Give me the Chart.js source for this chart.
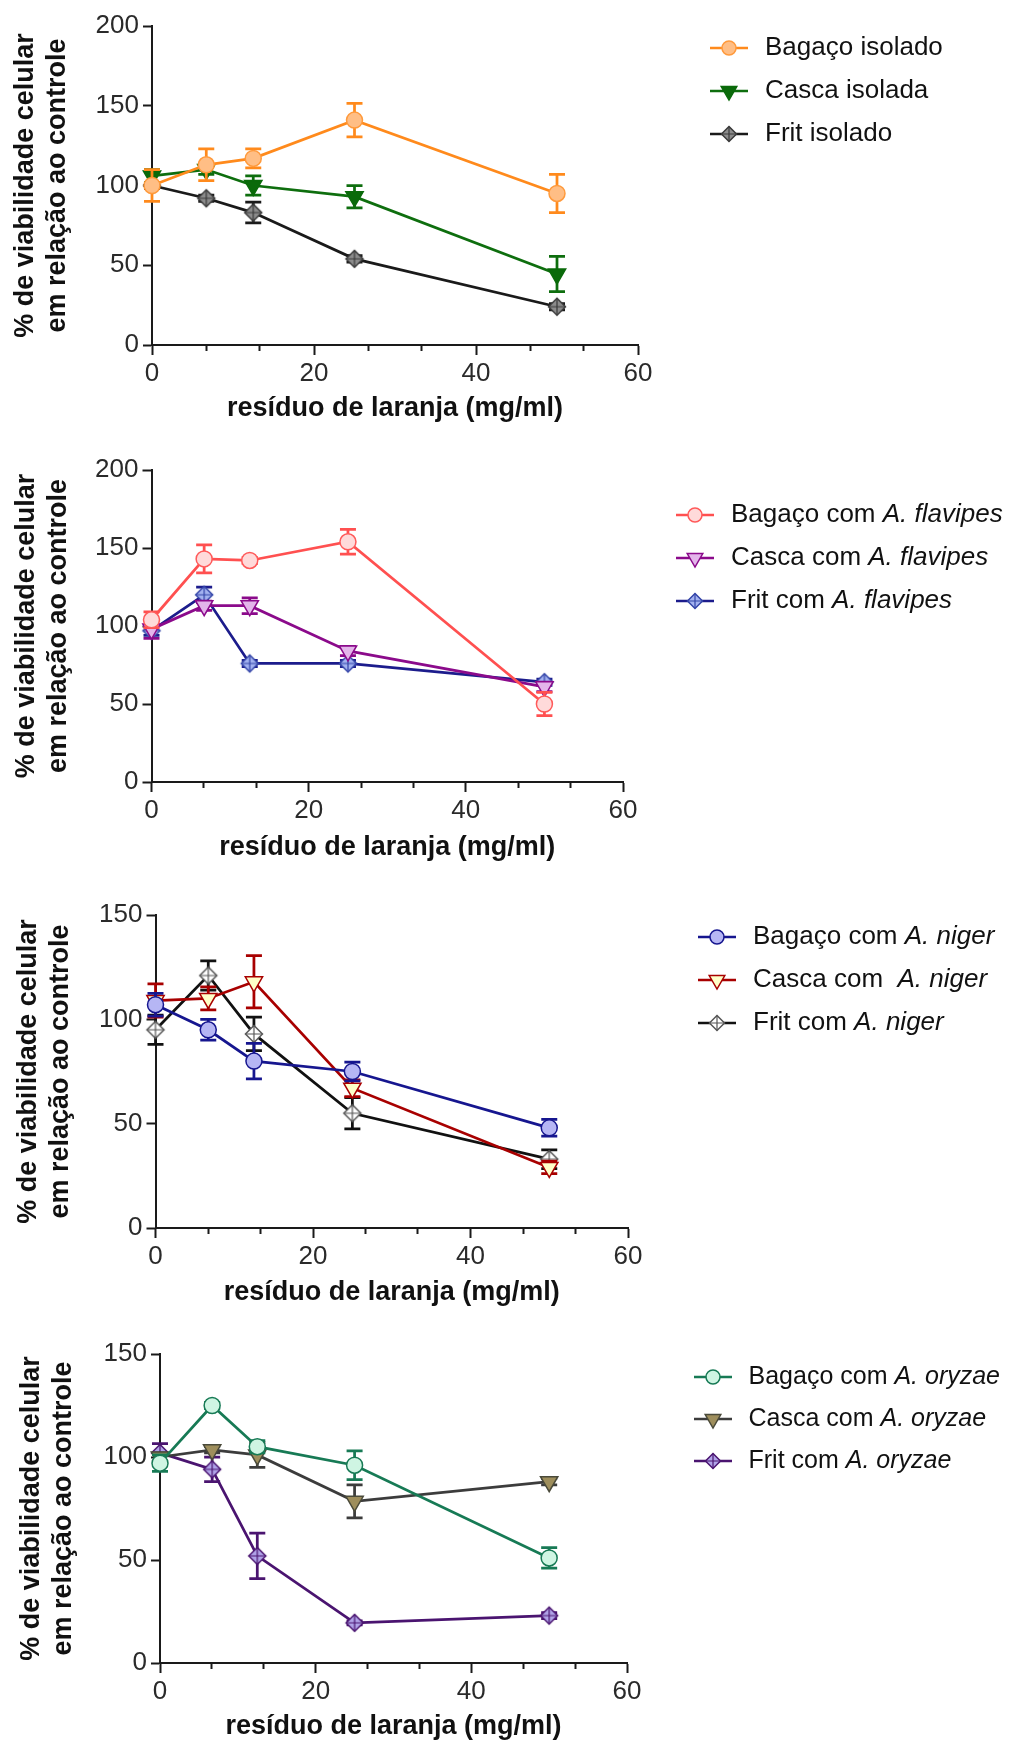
<!DOCTYPE html>
<html><head><meta charset="utf-8">
<script src="https://cdn.jsdelivr.net/npm/chart.js@4.4.1/dist/chart.umd.min.js"></script>
<style>
html,body{margin:0;padding:0;background:#fff;width:1009px;height:1740px;overflow:hidden}
canvas{position:absolute;left:0}
</style></head><body>
<canvas id="c1" width="1009" height="440" style="top:0px"></canvas>
<canvas id="c2" width="1009" height="440" style="top:440px"></canvas>
<canvas id="c3" width="1009" height="440" style="top:880px"></canvas>
<canvas id="c4" width="1009" height="420" style="top:1320px"></canvas>
<script>
// ---------------- DATA ----------------
const concentrations = [0, 6.7, 12.5, 25, 50];
const xMajorTicks = [0, 20, 40, 60];
const xMinorTicks = [6.67, 13.33, 26.67, 33.33, 46.67, 53.33];
const yTicks200 = [0, 50, 100, 150, 200];
const yTicks150 = [0, 50, 100, 150];
const yAxisTitle = ['% de viabilidade celular', 'em relação ao controle'];
const xAxisTitle = 'resíduo de laranja (mg/ml)';

const labelsIsolado = ['Bagaço isolado', 'Casca isolada', 'Frit isolado'];
const bagacoIsolado = [100, 113, 117, 141, 95];
const bagacoIsoladoErr = [10, 10, 6, 10.5, 12];
const cascaIsolada = [106, 110, 100, 93, 44.5];
const cascaIsoladaErr = [4, 3, 6, 7, 11];
const fritIsolado = [100, 92, 83, 54, 24];
const fritIsoladoErr = [2, 2, 6.5, 2, 2];

const labelsFlavipes = ['Bagaço com A. flavipes', 'Casca com A. flavipes', 'Frit com A. flavipes'];
const bagacoFlavipes = [104, 143, 142, 154, 50];
const bagacoFlavipesErr = [5, 9, 2, 8, 7.5];
const cascaFlavipes = [98, 113, 113, 84, 61];
const cascaFlavipesErr = [6, 3, 5, 3, 3];
const fritFlavipes = [97, 120, 76, 76, 64];
const fritFlavipesErr = [3, 5, 2, 2, 2];

const labelsNiger = ['Bagaço com A. niger', 'Casca com  A. niger', 'Frit com A. niger'];
const bagacoNiger = [107, 95, 80, 75, 48];
const bagacoNigerErr = [5.5, 5, 8.5, 4.5, 4];
const cascaNiger = [109, 110, 118, 67, 29];
const cascaNigerErr = [8, 5.5, 12.5, 4, 3];
const fritNiger = [95, 121, 93, 55, 33];
const fritNigerErr = [7, 7, 8, 7.5, 4.5];

const labelsOryzae = ['Bagaço com A. oryzae', 'Casca com A. oryzae', 'Frit com A. oryzae'];
const bagacoOryzae = [97, 125, 105, 96, 51];
const bagacoOryzaeErr = [4, 1.5, 3, 7, 5];
const cascaOryzae = [100, 103.5, 101, 78.5, 88];
const cascaOryzaeErr = [2, 1.5, 6, 8, 1.5];
const fritOryzae = [102, 94, 52, 19.5, 23];
const fritOryzaeErr = [4.5, 6, 11, 1, 1.5];

// ---------------- STYLES ----------------
const FONT = "'Liberation Sans', Arial, Helvetica, sans-serif";
const styles1 = [
  {marker: 'circle', line: '#FF8A1C', fill: '#FFBE85', stroke: '#FF9A3C'},
  {marker: 'triangle', line: '#0E6E0E', fill: '#0A6A0A', stroke: '#0A6A0A'},
  {marker: 'diamond', line: '#1A1A1A', fill: '#8C8C8C', stroke: '#3A3A3A'}
];
const styles2 = [
  {marker: 'circle', line: '#FF5050', fill: '#FFDADA', stroke: '#FF5A5A'},
  {marker: 'triangle', line: '#8B0A8B', fill: '#E3B5EA', stroke: '#8B0A8B'},
  {marker: 'diamond', line: '#1C1C8C', fill: '#A3B2F0', stroke: '#3344A8'}
];
const styles3 = [
  {marker: 'circle', line: '#16168F', fill: '#B6B6F4', stroke: '#16168F'},
  {marker: 'triangle', line: '#A80000', fill: '#FFFFC8', stroke: '#A80000'},
  {marker: 'diamond', line: '#111111', fill: '#FFFFFF', stroke: '#555555'}
];
const styles4 = [
  {marker: 'circle', line: '#177A55', fill: '#CFF5E3', stroke: '#177A55'},
  {marker: 'triangle', line: '#3C3C3C', fill: '#9E8E5C', stroke: '#4A4A3A'},
  {marker: 'diamond', line: '#4A1470', fill: '#B0A3E8', stroke: '#4A1470'}
];

function markerCanvas(kind, fill, stroke, lineColor) {
  const w = lineColor ? 38 : 22, h = 24;
  const c = document.createElement('canvas'); c.width = w; c.height = h;
  const g = c.getContext('2d');
  const cx = w / 2, cy = h / 2;
  if (lineColor) {
    g.strokeStyle = lineColor; g.lineWidth = 2.5;
    g.beginPath(); g.moveTo(0, cy); g.lineTo(w, cy); g.stroke();
  }
  g.fillStyle = fill; g.strokeStyle = stroke; g.lineWidth = 1.5;
  g.beginPath();
  if (kind === 'circle') {
    g.arc(cx, cy, 7, 0, Math.PI * 2);
  } else if (kind === 'triangle') {
    const r = 9;
    g.moveTo(cx - r * 0.866, cy - r / 2); g.lineTo(cx + r * 0.866, cy - r / 2); g.lineTo(cx, cy + r); g.closePath();
  } else {
    const r = lineColor ? 7.5 : 8.5;
    g.moveTo(cx, cy - r); g.lineTo(cx + r, cy); g.lineTo(cx, cy + r); g.lineTo(cx - r, cy); g.closePath();
  }
  g.fill(); g.stroke();
  if (kind === 'diamond') {
    const r = lineColor ? 7.5 : 8.5;
    g.lineWidth = 1.2; g.beginPath();
    g.moveTo(cx, cy - r); g.lineTo(cx, cy + r); g.moveTo(cx - r, cy); g.lineTo(cx + r, cy); g.stroke();
  }
  return c;
}

function makeDataset(label, values, errors, st) {
  const ds = {
    label: label,
    data: values.map((v, i) => ({x: concentrations[i], y: v})),
    errorBars: errors,
    borderColor: st.line,
    borderWidth: 2.75,
    tension: 0,
    clip: false,
    pointBackgroundColor: st.fill,
    pointBorderColor: st.stroke,
    pointBorderWidth: 1.5,
    legendIcon: markerCanvas(st.marker, st.fill, st.stroke, st.line)
  };
  if (st.marker === 'circle') { ds.pointStyle = 'circle'; ds.pointRadius = 8; }
  else if (st.marker === 'triangle') { ds.pointStyle = 'triangle'; ds.pointRotation = 180; ds.pointRadius = 10; }
  else { ds.pointStyle = markerCanvas('diamond', st.fill, st.stroke, null); ds.pointRadius = 8.5; }
  return ds;
}

const errorBarPlugin = {
  id: 'errorBars',
  beforeDatasetDraw(chart, args) {
    const ds = chart.data.datasets[args.index];
    if (!ds.errorBars) return;
    const ys = chart.scales.y, ctx = chart.ctx;
    ctx.save();
    ctx.strokeStyle = ds.borderColor; ctx.lineWidth = 2.75;
    args.meta.data.forEach((pt, i) => {
      const e = ds.errorBars[i]; if (!e) return;
      const v = ds.data[i].y;
      const top = ys.getPixelForValue(v + e), bot = ys.getPixelForValue(v - e);
      const x = pt.x, cap = 8;
      ctx.beginPath();
      ctx.moveTo(x, top); ctx.lineTo(x, bot);
      ctx.moveTo(x - cap, top); ctx.lineTo(x + cap, top);
      ctx.moveTo(x - cap, bot); ctx.lineTo(x + cap, bot);
      ctx.stroke();
    });
    ctx.restore();
  }
};

const legendPlacer = {
  id: 'legendPlacer',
  afterLayout(chart, args, opts) {
    const lg = chart.legend; if (!lg || opts.x == null) return;
    const pad = lg.options.labels.padding;
    lg.left = opts.x - pad; lg.right = chart.width;
    lg.top = opts.y - pad; lg.bottom = chart.height;
    lg.width = lg.right - lg.left; lg.height = lg.bottom - lg.top;
  },
  beforeDraw(chart) {
    // species names (A. xxx) in the legend are drawn in italic
    const lg = chart.legend; if (!lg || lg._italicPatched) return;
    const orig = lg.draw.bind(lg);
    lg.draw = function(area) {
      const ctx = chart.ctx; const of = ctx.fillText;
      ctx.fillText = function(text, x, y, mw) {
        const m = /^(.*?)(A\.\s\S+)$/.exec(String(text));
        if (!m) return of.call(this, text, x, y);
        const f = this.font;
        of.call(this, m[1], x, y);
        const w = this.measureText(m[1]).width;
        this.font = 'italic ' + f;
        of.call(this, m[2], x + w, y);
        this.font = f;
      };
      try { orig(area); } finally { ctx.fillText = of; }
    };
    lg._italicPatched = true;
  }
};

function isMajor(v) { return xMajorTicks.some(m => Math.abs(m - v) < 1e-6); }

function makeChart(id, datasets, yTicks, g) {
  const W = 1009;
  return new Chart(document.getElementById(id), {
    type: 'line',
    data: {datasets: datasets},
    plugins: [errorBarPlugin, legendPlacer],
    options: {
      responsive: false, animation: false, events: [],
      devicePixelRatio: 1,
      layout: {padding: {top: g.T, left: 0, right: 0, bottom: 0}},
      scales: {
        x: {
          type: 'linear', min: 0, max: 60,
          afterBuildTicks: s => { s.ticks = xMajorTicks.concat(xMinorTicks).sort((a, b) => a - b).map(v => ({value: v})); },
          afterFit: s => { s.height = g.H - g.B; s.paddingRight = W - g.R; s.paddingLeft = 0; },
          border: {display: true, color: '#1a1a1a', width: 2},
          grid: {drawOnChartArea: false, drawTicks: true, tickLength: 10, tickWidth: 2, tickColor: '#1a1a1a',
                 tickBorderDash: c => (c.tick && !isMajor(c.tick.value)) ? [5, 40] : []},
          ticks: {autoSkip: false, maxRotation: 0, padding: 3, color: '#2a2a2a', font: {family: FONT, size: 26},
                  callback: v => isMajor(v) ? String(Math.round(v)) : ''},
          title: {display: true, text: xAxisTitle, color: '#111', font: {family: FONT, size: 27, weight: 'bold', lineHeight: 1.0},
                  padding: {top: 0, bottom: g.xtp}}
        },
        y: {
          type: 'linear', min: 0, max: yTicks[yTicks.length - 1],
          afterBuildTicks: s => { s.ticks = yTicks.map(v => ({value: v})); },
          afterFit: s => { s.width = g.L; },
          border: {display: true, color: '#1a1a1a', width: 2},
          grid: {drawOnChartArea: false, drawTicks: true, tickLength: 9, tickWidth: 2, tickColor: '#1a1a1a'},
          ticks: {padding: 4, color: '#2a2a2a', font: {family: FONT, size: 26}},
          title: {display: true, text: yAxisTitle, color: '#111', font: {family: FONT, size: 27, weight: 'bold', lineHeight: 1.2},
                  padding: {top: g.ytp, bottom: 0}}
        }
      },
      plugins: {
        tooltip: {enabled: false},
        legendPlacer: {x: g.lx, y: g.ly},
        legend: {
          display: true, position: 'right', align: 'start',
          labels: {
            usePointStyle: true, pointStyleWidth: 46, padding: g.lp, color: '#111',
            font: {family: FONT, size: g.lf},
            generateLabels: ch => ch.data.datasets.map((ds, i) => ({
              text: ds.label, pointStyle: ds.legendIcon, fillStyle: 'rgba(0,0,0,0)', strokeStyle: 'rgba(0,0,0,0)',
              lineWidth: 0, hidden: false, datasetIndex: i, fontColor: '#111'
            }))
          }
        }
      }
    }
  });
}

makeChart('c1', [
  makeDataset(labelsIsolado[0], bagacoIsolado, bagacoIsoladoErr, styles1[0]),
  makeDataset(labelsIsolado[1], cascaIsolada, cascaIsoladaErr, styles1[1]),
  makeDataset(labelsIsolado[2], fritIsolado, fritIsoladoErr, styles1[2])
], yTicks200, {H: 440, L: 152, R: 638, T: 26, B: 345, ytp: 9, xtp: 17.5, lx: 706, ly: 35, lp: 17, lf: 26});

makeChart('c2', [
  makeDataset(labelsFlavipes[0], bagacoFlavipes, bagacoFlavipesErr, styles2[0]),
  makeDataset(labelsFlavipes[1], cascaFlavipes, cascaFlavipesErr, styles2[1]),
  makeDataset(labelsFlavipes[2], fritFlavipes, fritFlavipesErr, styles2[2])
], yTicks200, {H: 440, L: 151.5, R: 623, T: 30, B: 342, ytp: 10, xtp: 19, lx: 672, ly: 62, lp: 17, lf: 26});

makeChart('c3', [
  makeDataset(labelsNiger[0], bagacoNiger, bagacoNigerErr, styles3[0]),
  makeDataset(labelsNiger[1], cascaNiger, cascaNigerErr, styles3[1]),
  makeDataset(labelsNiger[2], fritNiger, fritNigerErr, styles3[2])
], yTicks150, {H: 440, L: 155.5, R: 628, T: 35, B: 348, ytp: 12, xtp: 14, lx: 694, ly: 44, lp: 17, lf: 26});

makeChart('c4', [
  makeDataset(labelsOryzae[0], bagacoOryzae, bagacoOryzaeErr, styles4[0]),
  makeDataset(labelsOryzae[1], cascaOryzae, cascaOryzaeErr, styles4[1]),
  makeDataset(labelsOryzae[2], fritOryzae, fritOryzaeErr, styles4[2])
], yTicks150, {H: 420, L: 160, R: 627, T: 34, B: 343, ytp: 15, xtp: 0, lx: 690, ly: 44.5, lp: 17, lf: 25});
</script>
</body></html>
